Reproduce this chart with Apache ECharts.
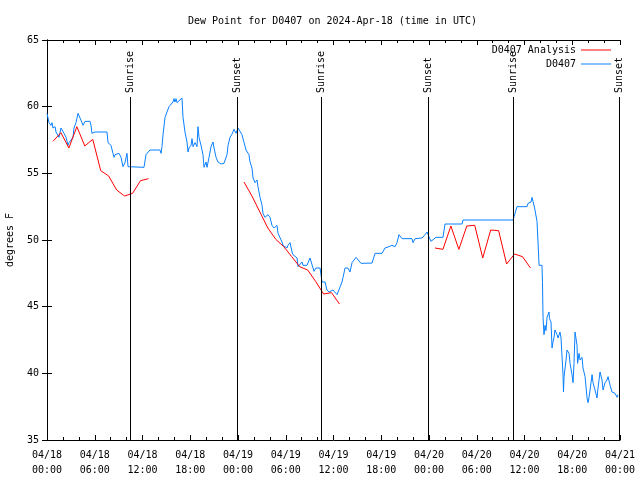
<!DOCTYPE html>
<html>
<head>
<meta charset="utf-8">
<script src="https://cdn.jsdelivr.net/npm/echarts@6/dist/echarts.min.js"></script>
<style>html,body{margin:0;padding:0;background:#fff;}#c{width:640px;height:480px;}</style>
</head>
<body>
<div id="c"></div>
<script>
// Hours since 2024-04-18 00:00 UTC
const obsHours = [0,0.25,0.50,0.63,0.75,1.01,1.13,1.26,1.51,1.76,2.01,2.14,2.39,2.64,2.76,3.02,3.27,3.39,3.64,3.90,4.15,4.40,4.52,4.78,5.40,5.53,5.65,5.78,6.03,7.54,7.67,8.04,8.29,8.42,8.55,8.80,9.05,9.30,9.55,9.80,10.05,10.18,10.30,12.19,12.44,12.57,12.94,14.20,14.33,14.45,14.58,14.83,15.08,15.33,15.58,15.83,15.96,16.08,16.21,16.34,16.59,16.96,17.09,17.34,17.59,17.72,17.84,18.10,18.22,18.35,18.60,18.85,18.97,19.10,19.35,19.60,19.73,19.98,20.11,20.36,20.61,20.86,20.99,21.24,21.49,21.87,22.12,22.24,22.62,22.75,23.00,23.25,23.50,23.75,24.00,24.25,24.50,24.76,25.01,25.26,25.38,25.51,25.76,25.89,26.14,26.39,26.51,26.77,27.02,27.14,27.39,27.77,28.02,28.27,28.53,28.90,29.03,29.28,29.53,29.66,29.91,30.16,30.28,30.54,30.79,30.91,31.16,31.42,31.54,31.79,32.04,32.17,32.67,33.05,33.30,33.55,33.80,34.31,34.56,34.93,35.18,35.44,35.94,36.19,36.44,36.69,37.07,37.20,37.45,37.82,38.07,38.33,38.45,38.83,39.08,39.46,39.71,40.84,41.22,42.10,42.47,42.98,43.35,43.73,43.98,44.23,44.61,45.86,45.99,46.24,47.12,47.50,47.75,47.88,48.25,48.50,48.88,49.76,50.01,52.15,52.27,58.56,58.81,59.06,60.32,60.44,60.69,60.82,60.95,61.07,61.32,61.57,61.70,61.83,62.20,62.26,62.33,62.45,62.58,62.70,62.83,63.08,63.14,63.33,63.46,63.58,63.71,63.83,64.09,64.21,64.46,64.59,64.84,64.90,64.97,65.22,65.34,65.60,65.72,65.97,66.10,66.22,66.35,66.60,66.67,66.85,66.98,67.23,67.35,67.61,67.86,67.99,68.11,68.36,68.49,68.61,68.86,69.11,69.24,69.49,69.74,69.87,70.12,70.37,70.50,70.75,71.00,71.12,71.38,71.63,71.75];
const obsDewF = [59.5,58.8,58.6,58.8,58.4,58.5,58.1,58.0,57.7,58.4,58.3,58.0,57.7,57.1,57.3,57.5,57.7,58.4,58.8,59.5,59.5,58.8,58.6,58.9,58.9,58.6,58.0,57.9,58.1,58.1,57.3,57.1,56.5,56.2,56.4,56.25,56.5,56.2,55.5,55.8,56.5,55.5,55.45,55.45,56.4,56.5,56.75,56.75,56.5,57.0,57.9,59.2,59.6,60.0,60.1,60.35,60.6,60.35,60.6,60.3,60.4,60.65,59.2,58.1,57.35,56.6,56.9,57.1,57.6,57.0,57.3,57.0,58.5,57.7,57.1,56.4,55.45,55.85,55.45,56.2,57.0,57.35,56.9,56.2,55.85,55.7,55.6,55.75,56.4,57.1,57.7,57.95,58.3,58.0,58.4,58.55,57.9,57.3,56.75,56.9,56.4,55.85,55.4,54.65,54.3,54.5,54.0,53.2,52.6,52.0,51.7,51.9,51.7,51.1,50.9,51.1,50.5,50.4,49.85,49.6,49.75,49.4,49.6,49.8,49.1,48.9,49.0,48.65,48.0,48.1,48.35,48.1,48.1,48.65,48.65,47.65,47.9,47.9,46.85,46.85,46.25,46.1,46.25,46.1,45.9,46.0,46.85,47.2,47.9,47.9,47.6,48.3,48.15,48.7,48.7,48.25,48.27,48.27,49.0,49.0,49.4,49.5,49.6,49.5,49.8,50.4,50.1,50.1,49.8,50.1,50.15,50.4,50.6,50.4,49.9,49.95,50.2,50.2,51.2,51.2,51.5,51.5,52.0,52.5,52.5,52.75,52.6,52.85,53.2,52.9,52.25,51.4,49.85,48.1,48.1,46.8,44.2,42.9,43.6,43.2,44.2,44.6,44.1,43.85,41.9,42.35,42.7,43.25,42.9,42.65,43.1,42.65,39.9,38.6,39.75,41.0,41.75,41.5,40.75,39.9,39.3,40.75,43.1,42.1,40.75,41.5,41.0,41.2,40.4,39.75,38.15,37.8,38.2,39.3,39.9,39.3,38.75,38.15,38.9,40.1,39.5,38.75,39.3,39.5,39.75,39.1,38.6,38.75,38.5,38.2,38.4];

const anaHours = [0.75,1.75,2.75,3.75,4.75,5.75,6.75,7.75,8.75,9.75,10.75,11.75,12.75,
                  24.75,25.75,26.75,27.75,28.75,29.75,30.75,31.75,32.75,33.75,34.75,35.75,36.75,
                  48.75,49.75,50.75,51.75,52.75,53.75,54.75,55.75,56.75,57.75,58.75,59.75,60.75];
const anaDewF = [57.4,58.05,56.9,58.5,57.05,57.55,55.2,54.8,53.75,53.3,53.5,54.45,54.6,
                 54.35,53.3,52.1,50.9,50.05,49.5,48.75,48.0,47.75,46.9,45.95,46.05,45.2,
                 49.4,49.3,51.05,49.3,51.05,51.1,48.65,50.75,50.7,48.2,48.95,48.75,47.9];

const sunHours = [10.43,23.83,34.47,47.85,58.58,71.87];
const sunLabels = ['Sunrise','Sunset','Sunrise','Sunset','Sunrise','Sunset'];

const xTickDates = ['04/18','04/19','04/20','04/21'];

const FONT = 'DejaVu Sans Mono';

const obsData = obsHours.map((h, i) => [h, obsDewF[i]]);
const anaData = [];
anaHours.forEach((h, i) => {
  if (i > 0 && h - anaHours[i - 1] > 2) anaData.push([ (h + anaHours[i-1]) / 2, '-' ]);
  anaData.push([h, anaDewF[i]]);
});
const sunData = sunHours.map((h, i) => [h, i]);

function xLabel(v) {
  const day = Math.floor(v / 24 + 1e-9);
  const hr = Math.round(v - day * 24);
  return xTickDates[day] + '\n' + String(hr).padStart(2, '0') + ':00';
}

const axisCommon = {
  axisLine: { show: true, lineStyle: { color: '#000', width: 1 } },
  splitLine: { show: false }
};

const chart = echarts.init(document.getElementById('c'), null, { renderer: 'canvas' });
chart.setOption({
  animation: false,
  backgroundColor: '#fff',
  title: {
    text: 'Dew Point for D0407 on 2024-Apr-18 (time in UTC)',
    left: 183, top: 11,
    textStyle: { fontFamily: FONT, fontSize: 10, fontWeight: 'normal', color: '#000' }
  },
  legend: {
    data: ['D0407 Analysis', 'D0407'],
    orient: 'vertical',
    align: 'right',
    right: 29, top: 44, padding: 0,
    icon: 'rect',
    itemWidth: 30, itemHeight: 1, itemGap: 2,
    textStyle: { fontFamily: FONT, fontSize: 10, color: '#000', lineHeight: 12 }
  },
  grid: { left: 47, right: 20, top: 40, bottom: 40, containLabel: false, outerBoundsMode: 'none' },
  xAxis: [
    Object.assign({
      type: 'value', min: 0, max: 72, interval: 6, position: 'bottom',
      axisTick: { show: true, inside: true, length: 5, lineStyle: { color: '#000' } },
      minorTick: { show: true, splitNumber: 3, length: 3, lineStyle: { color: '#000' } },
      axisLabel: { formatter: xLabel, fontFamily: FONT, fontSize: 10, color: '#000', lineHeight: 15, margin: 8 }
    }, axisCommon),
    Object.assign({
      type: 'value', min: 0, max: 72, interval: 6, position: 'top',
      axisTick: { show: true, inside: true, length: 5, lineStyle: { color: '#000' } },
      minorTick: { show: true, splitNumber: 3, length: 3, lineStyle: { color: '#000' } },
      axisLabel: { show: false }
    }, axisCommon)
  ],
  yAxis: [
    Object.assign({
      type: 'value', min: 35, max: 65, interval: 5, position: 'left',
      name: 'degrees F', nameLocation: 'middle', nameGap: 32, nameRotate: 90,
      nameTextStyle: { fontFamily: FONT, fontSize: 10, color: '#000' },
      axisTick: { show: true, inside: true, length: 5, lineStyle: { color: '#000' } },
      axisLabel: { fontFamily: FONT, fontSize: 10, color: '#000', margin: 8 }
    }, axisCommon),
    Object.assign({
      type: 'value', min: 35, max: 65, interval: 5, position: 'right',
      axisTick: { show: true, inside: true, length: 5, lineStyle: { color: '#000' } },
      axisLabel: { show: false }
    }, axisCommon)
  ],
  series: [
    {
      name: 'D0407 Analysis', type: 'line', data: anaData,
      showSymbol: false, symbol: 'none', connectNulls: false,
      lineStyle: { color: '#ff0000', width: 1 }, itemStyle: { color: '#ff0000' },
      z: 3
    },
    {
      name: 'D0407', type: 'line', data: obsData,
      showSymbol: false, symbol: 'none',
      lineStyle: { color: '#0a80ff', width: 1 }, itemStyle: { color: '#0a80ff' },
      z: 2
    },
    {
      name: 'sun', type: 'custom', data: sunData, z: 4, silent: true,
      renderItem: function (params, api) {
        const h = api.value(0);
        const bottom = api.coord([h, 35]);
        const top = api.coord([h, 65]);
        const x = Math.round(bottom[0]) + 0.5;
        const labelY = top[1] + 53;
        return {
          type: 'group',
          children: [
            { type: 'line', shape: { x1: x, y1: labelY + 4, x2: x, y2: bottom[1] },
              style: { stroke: '#000', lineWidth: 1 } },
            { type: 'text', x: x, y: labelY, rotation: Math.PI / 2,
              style: { text: sunLabels[api.value(1)], align: 'left', verticalAlign: 'middle',
                       font: '10px ' + FONT, fill: '#000' } }
          ]
        };
      }
    }
  ]
});
</script>
</body>
</html>
